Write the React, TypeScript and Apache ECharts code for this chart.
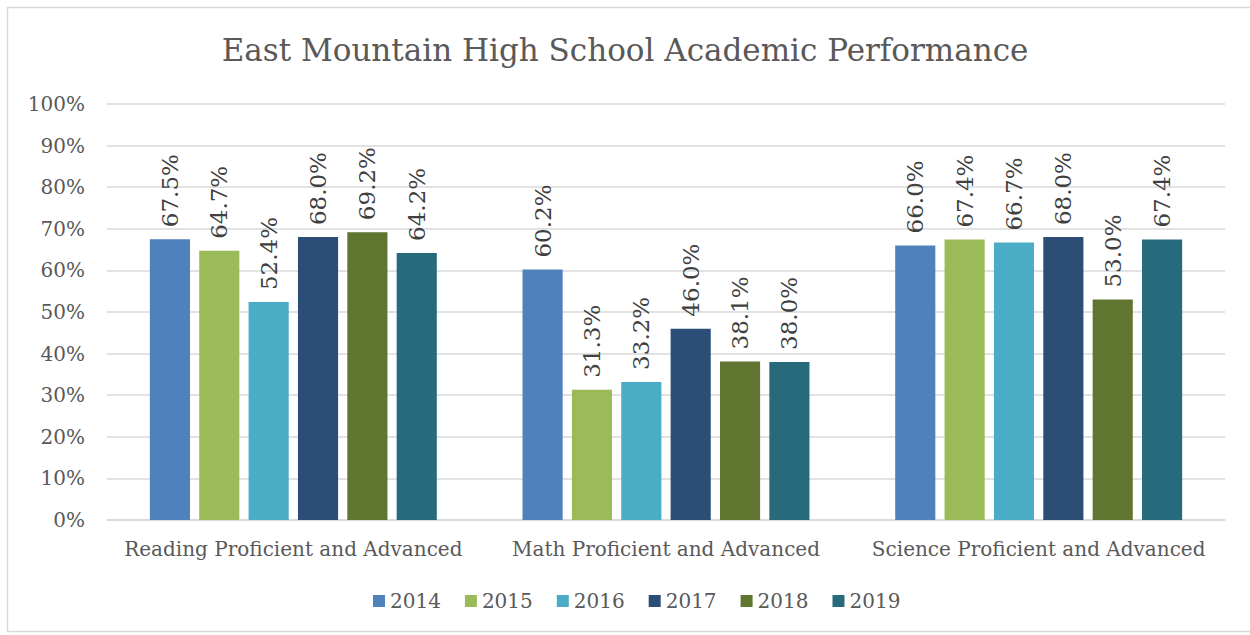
import React, { useEffect, useRef } from "react";
import * as echarts from "echarts";

const categories = [
  "Reading Proficient and Advanced",
  "Math Proficient and Advanced",
  "Science Proficient and Advanced",
];
const years = ["2014", "2015", "2016", "2017", "2018", "2019"];
const v2014 = [67.5, 60.2, 66.0];
const v2015 = [64.7, 31.3, 67.4];
const v2016 = [52.4, 33.2, 66.7];
const v2017 = [68.0, 46.0, 68.0];
const v2018 = [69.2, 38.1, 53.0];
const v2019 = [64.2, 38.0, 67.4];
const seriesValues = [v2014, v2015, v2016, v2017, v2018, v2019];
const colors = ["#4F81BD", "#9BBB59", "#4BACC6", "#2C4D75", "#5F7530", "#276A7C"];

const FONT = "'DejaVu Serif', 'Liberation Serif', serif";

export default function App() {
  const ref = useRef<HTMLDivElement>(null);
  useEffect(() => {
    if (!ref.current) return;
    const chart = echarts.init(ref.current, undefined, { renderer: "svg" });
    chart.setOption({
      animation: false,
      backgroundColor: "#ffffff",
      title: {
        text: "East Mountain High School Academic Performance",
        left: "center",
        top: 29,
        textStyle: { fontFamily: FONT, fontSize: 31, fontWeight: "normal", color: "#595959" },
      },
      graphic: [
        {
          type: "rect",
          shape: { x: 7.5, y: 7.5, width: 1250, height: 624 },
          style: { fill: "none", stroke: "#d9d9d9", lineWidth: 1.5 },
          silent: true,
        },
      ],
      legend: {
        bottom: 19,
        left: 368,
        itemWidth: 12,
        itemHeight: 12,
        itemGap: 24,
        icon: "rect",
        textStyle: { fontFamily: FONT, fontSize: 20, color: "#595959" },
        data: years,
      },
      grid: { left: 107, right: 25, top: 104, bottom: 115, containLabel: false },
      xAxis: {
        type: "category",
        data: categories,
        axisLine: { lineStyle: { color: "#d9d9d9", width: 1.5 } },
        axisTick: { show: false },
        axisLabel: { fontFamily: FONT, fontSize: 20, color: "#595959", margin: 19, interval: 0 },
      },
      yAxis: {
        type: "value",
        min: 0,
        max: 100,
        interval: 10,
        axisLine: { show: false },
        axisTick: { show: false },
        splitLine: { lineStyle: { color: "#d9d9d9", width: 1.5 } },
        axisLabel: {
          fontFamily: FONT,
          fontSize: 20,
          color: "#595959",
          margin: 22,
          formatter: (v: number) => v + "%",
        },
      },
      series: years.map((y, i) => ({
        name: y,
        type: "bar",
        data: seriesValues[i],
        itemStyle: { color: colors[i] },
        barGap: "23%",
        barCategoryGap: "23%",
        label: {
          show: true,
          position: "top",
          rotate: 90,
          align: "left",
          verticalAlign: "middle",
          distance: 12,
          fontFamily: FONT,
          fontSize: 23,
          color: "#404040",
          formatter: (p: any) => Number(p.value).toFixed(1) + "%",
        },
      })),
    });
    return () => chart.dispose();
  }, []);
  return (
    <div style={{ position: "absolute", left: 0, top: 0, width: 1250, height: 635 }}>
      <div ref={ref} style={{ width: 1250, height: 635 }} />
    </div>
  );
}
